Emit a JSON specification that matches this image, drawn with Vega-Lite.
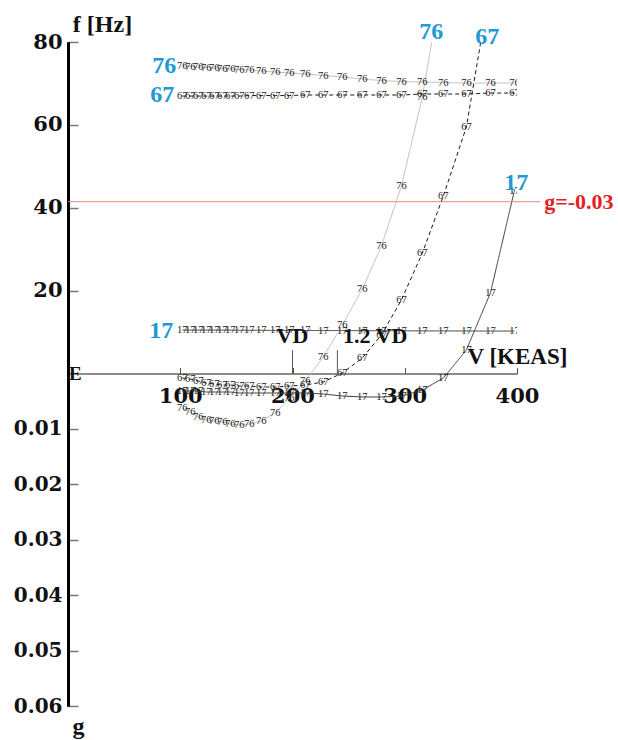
{
  "$schema": "https://vega.github.io/schema/vega-lite/v6.json",
  "width": 449,
  "height": 664,
  "autosize": {"type": "none"},
  "padding": {"left": 68, "top": 42, "right": 101, "bottom": 34},
  "background": "white",
  "config": {"view": {"stroke": null}, "font": "Liberation Serif"},
  "datasets": {
    "freq": [
      {"mode":"76","V":101.8,"f":74.20},{"mode":"76","V":108.9,"f":74.08},{"mode":"76","V":116.0,"f":73.96},{"mode":"76","V":123.1,"f":73.84},{"mode":"76","V":130.3,"f":73.72},{"mode":"76","V":137.4,"f":73.60},{"mode":"76","V":144.5,"f":73.48},{"mode":"76","V":152.5,"f":73.36},{"mode":"76","V":161.5,"f":73.24},{"mode":"76","V":172.1,"f":73.00},{"mode":"76","V":184.6,"f":72.76},{"mode":"76","V":197.1,"f":72.52},{"mode":"76","V":211.4,"f":72.28},{"mode":"76","V":227.4,"f":71.91},{"mode":"76","V":244.4,"f":71.55},{"mode":"76","V":262.2,"f":71.07},{"mode":"76","V":279.2,"f":70.70},{"mode":"76","V":297.0,"f":70.46},{"mode":"76","V":315.7,"f":70.34},{"mode":"76","V":334.4,"f":70.22},{"mode":"76","V":354.9,"f":70.10},{"mode":"76","V":376.3,"f":70.10},{"mode":"76","V":397.7,"f":70.10},
      {"mode":"67","V":101.8,"f":66.96},{"mode":"67","V":108.9,"f":66.96},{"mode":"67","V":116.0,"f":66.96},{"mode":"67","V":123.1,"f":66.96},{"mode":"67","V":130.3,"f":66.96},{"mode":"67","V":137.4,"f":66.96},{"mode":"67","V":144.5,"f":66.96},{"mode":"67","V":152.5,"f":66.96},{"mode":"67","V":161.5,"f":67.08},{"mode":"67","V":172.1,"f":67.08},{"mode":"67","V":184.6,"f":67.08},{"mode":"67","V":197.1,"f":67.08},{"mode":"67","V":211.4,"f":67.21},{"mode":"67","V":227.4,"f":67.21},{"mode":"67","V":244.4,"f":67.21},{"mode":"67","V":262.2,"f":67.21},{"mode":"67","V":279.2,"f":67.21},{"mode":"67","V":297.0,"f":67.21},{"mode":"67","V":315.7,"f":67.45},{"mode":"67","V":334.4,"f":67.45},{"mode":"67","V":354.9,"f":67.45},{"mode":"67","V":376.3,"f":67.69},{"mode":"67","V":397.7,"f":67.69},
      {"mode":"17","V":101.8,"f":10.50},{"mode":"17","V":108.9,"f":10.50},{"mode":"17","V":116.0,"f":10.50},{"mode":"17","V":123.1,"f":10.50},{"mode":"17","V":130.3,"f":10.50},{"mode":"17","V":137.4,"f":10.50},{"mode":"17","V":144.5,"f":10.50},{"mode":"17","V":152.5,"f":10.45},{"mode":"17","V":161.5,"f":10.45},{"mode":"17","V":172.1,"f":10.45},{"mode":"17","V":184.6,"f":10.40},{"mode":"17","V":197.1,"f":10.40},{"mode":"17","V":211.4,"f":10.40},{"mode":"17","V":227.4,"f":10.38},{"mode":"17","V":244.4,"f":10.38},{"mode":"17","V":262.2,"f":10.35},{"mode":"17","V":279.2,"f":10.35},{"mode":"17","V":297.0,"f":10.32},{"mode":"17","V":315.7,"f":10.30},{"mode":"17","V":334.4,"f":10.30},{"mode":"17","V":354.9,"f":10.28},{"mode":"17","V":376.3,"f":10.26},{"mode":"17","V":397.7,"f":10.26}
    ],
    "damp": [
      {"mode":"76","V":101.8,"g":0.00623},{"mode":"76","V":108.9,"g":0.00695},{"mode":"76","V":116.0,"g":0.00785},{"mode":"76","V":123.1,"g":0.00839},{"mode":"76","V":130.3,"g":0.00857},{"mode":"76","V":137.4,"g":0.00875},{"mode":"76","V":144.5,"g":0.00911},{"mode":"76","V":152.5,"g":0.00929},{"mode":"76","V":161.5,"g":0.00911},{"mode":"76","V":172.1,"g":0.00857},{"mode":"76","V":184.6,"g":0.00713},{"mode":"76","V":197.1,"g":0.00442},{"mode":"76","V":211.4,"g":0.00135},{"mode":"76","V":227.4,"g":-0.00298},{"mode":"76","V":244.4,"g":-0.00875},{"mode":"76","V":262.2,"g":-0.01525},{"mode":"76","V":279.2,"g":-0.02300},{"mode":"76","V":297.0,"g":-0.03383},{"mode":"76","V":315.7,"g":-0.04989},{"mode":"76","V":334.4,"g":-0.07227},
      {"mode":"67","V":101.8,"g":0.00081},{"mode":"67","V":108.9,"g":0.00099},{"mode":"67","V":116.0,"g":0.00135},{"mode":"67","V":123.1,"g":0.00171},{"mode":"67","V":130.3,"g":0.00189},{"mode":"67","V":137.4,"g":0.00208},{"mode":"67","V":144.5,"g":0.00208},{"mode":"67","V":152.5,"g":0.00226},{"mode":"67","V":161.5,"g":0.00226},{"mode":"67","V":172.1,"g":0.00244},{"mode":"67","V":184.6,"g":0.00244},{"mode":"67","V":197.1,"g":0.00226},{"mode":"67","V":211.4,"g":0.00208},{"mode":"67","V":227.4,"g":0.00153},{"mode":"67","V":244.4,"g":-0.00009},{"mode":"67","V":262.2,"g":-0.00280},{"mode":"67","V":279.2,"g":-0.00695},{"mode":"67","V":297.0,"g":-0.01326},{"mode":"67","V":315.7,"g":-0.02174},{"mode":"67","V":334.4,"g":-0.03203},{"mode":"67","V":354.9,"g":-0.04448},{"mode":"67","V":376.3,"g":-0.07010},
      {"mode":"17","V":101.8,"g":0.00316},{"mode":"17","V":108.9,"g":0.00316},{"mode":"17","V":116.0,"g":0.00316},{"mode":"17","V":123.1,"g":0.00334},{"mode":"17","V":130.3,"g":0.00334},{"mode":"17","V":137.4,"g":0.00334},{"mode":"17","V":144.5,"g":0.00334},{"mode":"17","V":152.5,"g":0.00352},{"mode":"17","V":161.5,"g":0.00352},{"mode":"17","V":172.1,"g":0.00352},{"mode":"17","V":184.6,"g":0.00352},{"mode":"17","V":197.1,"g":0.00352},{"mode":"17","V":211.4,"g":0.00352},{"mode":"17","V":227.4,"g":0.00370},{"mode":"17","V":244.4,"g":0.00406},{"mode":"17","V":262.2,"g":0.00424},{"mode":"17","V":279.2,"g":0.00424},{"mode":"17","V":297.0,"g":0.00406},{"mode":"17","V":315.7,"g":0.00298},{"mode":"17","V":334.4,"g":0.00081},{"mode":"17","V":354.9,"g":-0.00424},{"mode":"17","V":376.3,"g":-0.01453},{"mode":"17","V":397.7,"g":-0.03302}
    ],
    "tagsF": [
      {"mode":"76","V":85.7,"f":74.2},
      {"mode":"67","V":83.9,"f":67.2},
      {"mode":"17","V":83.0,"f":10.3}
    ],
    "tagsG": [
      {"mode":"76","V":323.5,"g":-0.0616},
      {"mode":"67","V":373.5,"g":-0.0607},
      {"mode":"17","V":399.4,"g":-0.0344}
    ],
    "speeds": [
      {"V":200,"f0":0,"f1":5.67,"label":"VD","labelV":200,"labelF":7.36},
      {"V":240,"f0":0,"f1":5.67,"label":"1.2 VD","labelV":273.7,"labelF":7.36}
    ],
    "limit": [
      {"g":-0.031,"V0":0,"V1":420.7,"label":"g=-0.03"}
    ],
    "origin": [
      {"V":0,"f":0,"glyph":"E"}
    ]
  },
  "layer": [
    {
      "data": {"name": "freq"},
      "mark": {"type": "line", "clip": true, "strokeWidth": 1},
      "encoding": {
        "x": {
          "field": "V", "type": "quantitative",
          "scale": {"domain": [0, 400], "nice": false},
          "axis": {
            "orient": "bottom", "offset": -332.5, "values": [100, 200, 300, 400],
            "grid": false, "labelFlush": false, "labelOverlap": false,
            "labelFont": "DejaVu Serif", "labelFontSize": 21, "labelFontWeight": "bold", "labelColor": "#111",
            "labelBaseline": "alphabetic", "labelPadding": 35,
            "ticks": true, "tickSize": -6, "tickColor": "#555", "tickWidth": 1,
            "domainColor": "#666", "domainWidth": 1.5,
            "title": "V [KEAS]", "titleAngle": 0, "titleX": 399, "titleY": -10.5,
            "titleAlign": "left", "titleBaseline": "alphabetic",
            "titleFont": "Liberation Serif", "titleFontSize": 23, "titleFontWeight": "bold", "titleColor": "#111"
          }
        },
        "y": {
          "field": "f", "type": "quantitative",
          "scale": {"domain": [-80.2, 80], "nice": false, "zero": false},
          "axis": {
            "orient": "left", "values": [20, 40, 60, 80], "grid": false, "labelOverlap": false,
            "labelFont": "DejaVu Serif", "labelFontSize": 21, "labelFontWeight": "bold", "labelColor": "#111",
            "labelPadding": 16, "labelBaseline": "middle",
            "ticks": true, "tickSize": -10, "tickColor": "#777", "tickWidth": 1.5,
            "domainColor": "#000", "domainWidth": 3,
            "title": "f [Hz]", "titleAngle": 0, "titleX": 34, "titleY": -11,
            "titleAlign": "center", "titleBaseline": "alphabetic",
            "titleFont": "Liberation Serif", "titleFontSize": 24, "titleFontWeight": "bold", "titleColor": "#111"
          }
        },
        "color": {"field": "mode", "type": "nominal", "scale": {"domain": ["17", "67", "76"], "range": ["#3a3a3a", "#1a1a1a", "#bdbdbd"]}, "legend": null},
        "strokeDash": {"field": "mode", "type": "nominal", "scale": {"domain": ["17", "67", "76"], "range": [[1, 0], [4, 3], [1, 0]]}, "legend": null},
        "order": {"field": "V", "type": "quantitative"}
      }
    },
    {
      "data": {"name": "damp"},
      "mark": {"type": "line", "clip": true, "strokeWidth": 1},
      "encoding": {
        "x": {"field": "V", "type": "quantitative"},
        "y": {
          "field": "g", "type": "quantitative",
          "scale": {"domain": [-0.05982, 0.06], "reverse": true, "nice": false, "zero": false},
          "axis": {
            "orient": "left", "values": [0.01, 0.02, 0.03, 0.04, 0.05, 0.06], "format": ".2f", "grid": false, "labelOverlap": false,
            "labelFont": "DejaVu Serif", "labelFontSize": 20, "labelFontWeight": "bold", "labelColor": "#111",
            "labelPadding": 16, "labelBaseline": "middle",
            "ticks": true, "tickSize": -10, "tickColor": "#777", "tickWidth": 1.5,
            "domainColor": "#000", "domainWidth": 3,
            "title": "g", "titleAngle": 0, "titleX": 10, "titleY": 691,
            "titleAlign": "center", "titleBaseline": "alphabetic",
            "titleFont": "Liberation Serif", "titleFontSize": 24, "titleFontWeight": "bold", "titleColor": "#111"
          }
        },
        "color": {"field": "mode", "type": "nominal", "legend": null},
        "strokeDash": {"field": "mode", "type": "nominal", "legend": null},
        "order": {"field": "V", "type": "quantitative"}
      }
    },
    {
      "data": {"name": "freq"},
      "mark": {"type": "text", "clip": true, "font": "Liberation Serif", "fontSize": 10.5, "color": "#222", "baseline": "middle", "align": "center"},
      "encoding": {
        "x": {"field": "V", "type": "quantitative"},
        "y": {"field": "f", "type": "quantitative", "scale": {"domain": [-80.2, 80], "nice": false, "zero": false}, "axis": null},
        "text": {"field": "mode"}
      }
    },
    {
      "data": {"name": "damp"},
      "mark": {"type": "text", "clip": true, "font": "Liberation Serif", "fontSize": 10.5, "color": "#222", "baseline": "middle", "align": "center"},
      "encoding": {
        "x": {"field": "V", "type": "quantitative"},
        "y": {"field": "g", "type": "quantitative", "scale": {"domain": [-0.05982, 0.06], "reverse": true, "nice": false, "zero": false}, "axis": null},
        "text": {"field": "mode"}
      }
    },
    {
      "data": {"name": "speeds"},
      "mark": {"type": "rule", "color": "#555", "strokeWidth": 1},
      "encoding": {
        "x": {"field": "V", "type": "quantitative"},
        "y": {"field": "f0", "type": "quantitative", "scale": {"domain": [-80.2, 80], "nice": false, "zero": false}, "axis": null},
        "y2": {"field": "f1"}
      }
    },
    {
      "data": {"name": "speeds"},
      "mark": {"type": "text", "font": "Liberation Serif", "fontSize": 22, "fontWeight": "bold", "color": "#111", "baseline": "alphabetic", "align": "center"},
      "encoding": {
        "x": {"field": "labelV", "type": "quantitative"},
        "y": {"field": "labelF", "type": "quantitative", "scale": {"domain": [-80.2, 80], "nice": false, "zero": false}, "axis": null},
        "text": {"field": "label"}
      }
    },
    {
      "data": {"name": "tagsF"},
      "mark": {"type": "text", "font": "Liberation Serif", "fontSize": 24, "fontWeight": "bold", "color": "#1f9ad6", "baseline": "middle", "align": "center"},
      "encoding": {
        "x": {"field": "V", "type": "quantitative"},
        "y": {"field": "f", "type": "quantitative", "scale": {"domain": [-80.2, 80], "nice": false, "zero": false}, "axis": null},
        "text": {"field": "mode"}
      }
    },
    {
      "data": {"name": "origin"},
      "mark": {"type": "text", "font": "Liberation Serif", "fontSize": 19, "fontWeight": "bold", "color": "#111", "baseline": "middle", "align": "left", "dx": 1},
      "encoding": {
        "x": {"field": "V", "type": "quantitative"},
        "y": {"field": "f", "type": "quantitative", "scale": {"domain": [-80.2, 80], "nice": false, "zero": false}, "axis": null},
        "text": {"field": "glyph"}
      }
    },
    {
      "data": {"name": "limit"},
      "mark": {"type": "rule", "color": "#f08080", "strokeWidth": 1},
      "encoding": {
        "x": {"field": "V0", "type": "quantitative"},
        "x2": {"field": "V1"},
        "y": {"field": "g", "type": "quantitative", "scale": {"domain": [-0.05982, 0.06], "reverse": true, "nice": false, "zero": false}, "axis": null}
      }
    },
    {
      "data": {"name": "limit"},
      "mark": {"type": "text", "font": "Liberation Serif", "fontSize": 22, "fontWeight": "bold", "color": "#e31e24", "baseline": "middle", "align": "left", "dx": 4},
      "encoding": {
        "x": {"field": "V1", "type": "quantitative"},
        "y": {"field": "g", "type": "quantitative", "scale": {"domain": [-0.05982, 0.06], "reverse": true, "nice": false, "zero": false}, "axis": null},
        "text": {"field": "label"}
      }
    },
    {
      "data": {"name": "tagsG"},
      "mark": {"type": "text", "font": "Liberation Serif", "fontSize": 24, "fontWeight": "bold", "color": "#1f9ad6", "baseline": "middle", "align": "center"},
      "encoding": {
        "x": {"field": "V", "type": "quantitative"},
        "y": {"field": "g", "type": "quantitative", "scale": {"domain": [-0.05982, 0.06], "reverse": true, "nice": false, "zero": false}, "axis": null},
        "text": {"field": "mode"}
      }
    }
  ],
  "resolve": {"scale": {"y": "independent"}, "axis": {"y": "independent"}}
}
